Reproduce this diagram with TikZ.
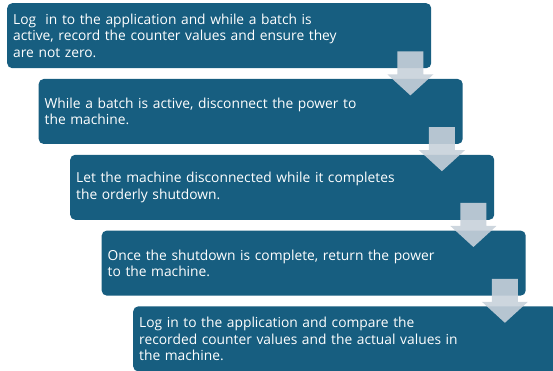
\documentclass[tikz,border=0pt]{standalone}
\usepackage{fontspec}
\setmainfont{Open Sans}
\usetikzlibrary{calc}
\definecolor{stepblue}{RGB}{23,94,128}
\definecolor{flowgrey}{RGB}{200,209,218}
\tikzset{
  stepbox/.style={
    fill=stepblue, draw=none, rounded corners=5pt,
    minimum width=424pt, minimum height=65pt,
    text width=412pt, inner xsep=6pt, inner ysep=0pt,
    align=left, anchor=north west, text=white,
    font=\fontsize{13.8}{16.3}\selectfont
  },
  flowarrow/.style={fill=flowgrey, fill opacity=0.9, draw=none}
}
% block arrow pointing down from the lower right part of a box
\newcommand{\downarrowblock}[1]{%
  \coordinate (c) at ($(#1.south east)+(-21pt,0)$);
  \fill[flowarrow] ($(c)+(-13pt,17pt)$) -- ($(c)+(13pt,17pt)$)
    -- ($(c)+(13pt,-6pt)$) -- ($(c)+(23pt,-6pt)$) -- ($(c)+(0pt,-27pt)$)
    -- ($(c)+(-23pt,-6pt)$) -- ($(c)+(-13pt,-6pt)$) -- cycle;}
\begin{document}
\begin{tikzpicture}[x=1pt,y=1pt]
\useasboundingbox (0,0) rectangle (553,371);
\begin{scope}
\clip (0,0) rectangle (553,371);
\node[stepbox] (s1) at (7,368) {Log\ \ in to the application and while a batch is\\active, record the counter values and ensure they\\are not zero.};
\node[stepbox] (s2) at (38.5,292.2) {While a batch is active, disconnect the power to\\the machine.};
\node[stepbox] (s3) at (70,216.4) {Let the machine disconnected while it completes\\the orderly shutdown.};
\node[stepbox] (s4) at (101.5,140.6) {Once the shutdown is complete, return the power\\to the machine.};
\node[stepbox] (s5) at (133,64.8) {Log in to the application and compare the\\recorded counter values and the actual values in\\the machine.};
\downarrowblock{s1}
\downarrowblock{s2}
\downarrowblock{s3}
\downarrowblock{s4}
\end{scope}
\end{tikzpicture}
\end{document}
